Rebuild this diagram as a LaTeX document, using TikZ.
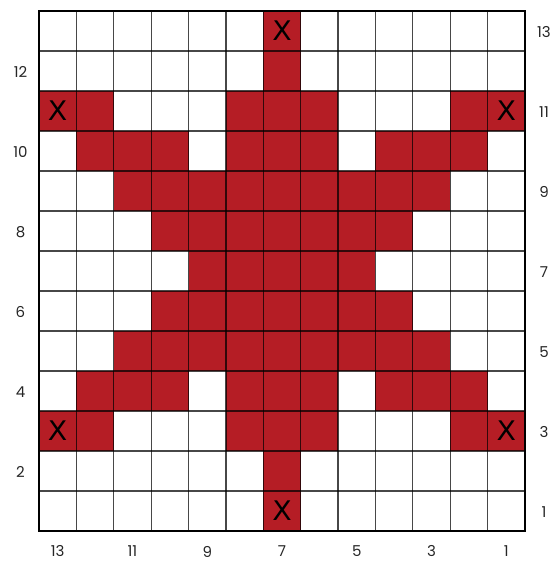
\documentclass[tikz,border=0pt]{standalone}
\usepackage{fontspec}
\setmainfont{Poppins}
\newfontfamily\xfont{DejaVu Sans}
\definecolor{chartred}{RGB}{181,29,37}
\begin{document}
\begin{tikzpicture}[x=1pt,y=-1pt,
  cell/.style={fill=chartred},
  gridline/.style={draw=black,draw opacity=0.72,line width=1.2pt},
  border/.style={draw=black,line width=2.6pt},
  xmark/.style={font=\xfont\fontsize{27}{27}\selectfont,inner sep=0pt,text=black,xscale=1.05},
  numlabel/.style={font=\fontsize{15}{16}\selectfont,inner sep=0pt,text=black!85}]
\useasboundingbox (0,0) rectangle (556,561);
\def\cw{37.3846}
% red cells: row / list of columns (0 = leftmost)
\foreach \r/\cols in {1/{6},2/{6},3/{0,1,5,6,7,11,12},4/{1,2,3,5,6,7,9,10,11},
  5/{2,...,10},6/{3,...,9},7/{4,...,8},8/{3,...,9},9/{2,...,10},
  10/{1,2,3,5,6,7,9,10,11},11/{0,1,5,6,7,11,12},12/{6},13/{6}}{
  \foreach \c in \cols {
    \fill[cell] ({39+\c*\cw},{11+(13-\r)*40}) rectangle ++(\cw,40);
  }
}
% grid
\foreach \i in {1,...,12}{
  \draw[gridline] ({39+\i*\cw},11) -- ++(0,520);
  \draw[gridline] (39,{11+\i*40}) -- ++(486,0);
}
\draw[border] (39,11) rectangle (525,531);
% X marks
\foreach \c/\r/\n in {6/1/a,6/13/b,0/3/c,12/3/d,0/11/e,12/11/f}{
  \node[xmark] (x\n) at ({39+(\c+0.5)*\cw},{31+(13-\r)*40}) {X};
}
% row labels
\foreach \r in {2,4,...,12}{
  \node[numlabel] (left\r) at (20.5,{31+(13-\r)*40+1}) {\r};
}
\foreach \r in {1,3,...,13}{
  \node[numlabel] (right\r) at (544,{31+(13-\r)*40+1}) {\r};
}
% column labels
\foreach \c in {0,2,...,12}{
  \pgfmathtruncatemacro{\n}{13-\c}
  \node[numlabel] (bottom\n) at ({39+(\c+0.5)*\cw},551.5) {\n};
}
\end{tikzpicture}
\end{document}
